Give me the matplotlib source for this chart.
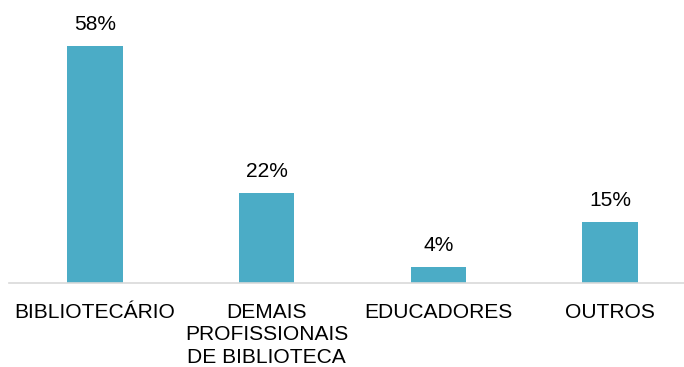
import matplotlib
matplotlib.use("Agg")
import matplotlib.pyplot as plt

categories = ["BIBLIOTECÁRIO", "DEMAIS\nPROFISSIONAIS\nDE BIBLIOTECA", "EDUCADORES", "OUTROS"]
values = [58, 22, 4, 15]
value_labels = ["58%", "22%", "4%", "15%"]

plt.rcParams['font.family'] = ['Liberation Sans', 'DejaVu Sans']

fig = plt.figure(figsize=(6.84, 3.67), dpi=100)
ax = fig.add_axes([9 / 684, (367 - 283) / 367, 1 - 9 / 684, (283 - 37.8) / 367])

x = list(range(len(categories)))
bars = ax.bar(x, values, width=0.322, color="#4BACC6", zorder=2)

for xi, v, lab in zip(x, values, value_labels):
    ax.annotate(lab, (xi, v), xytext=(0, 8.6), textcoords="offset points",
                ha="center", va="bottom", fontsize=15.1, color="#000000")

ax.set_xlim(-0.5, 3.43)
ax.set_ylim(0, 60)
ax.set_xticks(x)
ax.set_xticklabels(categories, fontsize=15.1, linespacing=1.25)
ax.tick_params(axis="x", length=0, pad=14.2)
ax.set_yticks([])
for s in ["top", "right", "left"]:
    ax.spines[s].set_visible(False)
ax.spines["bottom"].set_color("#D9D9D9")
ax.spines["bottom"].set_linewidth(1.2)

fig.savefig("out.png", dpi=100)
